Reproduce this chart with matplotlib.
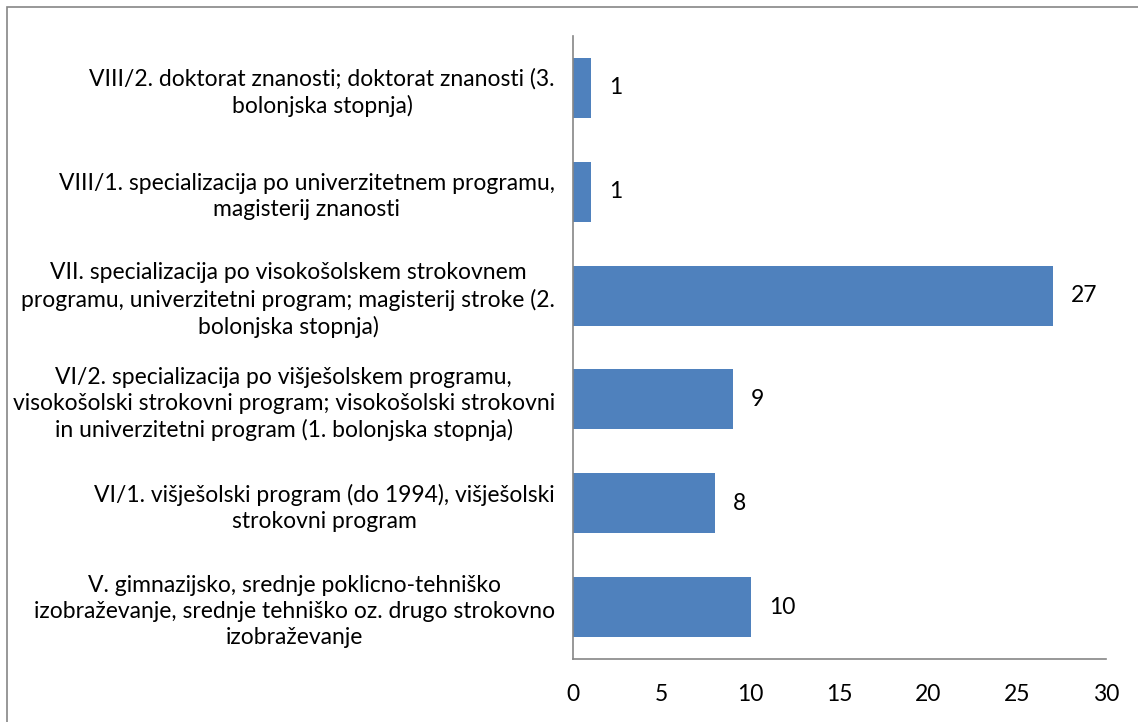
import matplotlib
matplotlib.use("Agg")
from matplotlib import pyplot as plt
from matplotlib.patches import Rectangle

# categories bottom to top, as drawn
CATEGORIES = [
    "V. gimnazijsko, srednje poklicno-tehniško\nizobraževanje, srednje tehniško oz. drugo strokovno\nizobraževanje",
    "VI/1. višješolski program (do 1994), višješolski\nstrokovni program",
    "VI/2. specializacija po višješolskem programu,\nvisokošolski strokovni program; visokošolski strokovni\nin univerzitetni program (1. bolonjska stopnja)",
    "VII. specializacija po visokošolskem strokovnem\nprogramu, univerzitetni program; magisterij stroke (2.\nbolonjska stopnja)",
    "VIII/1. specializacija po univerzitetnem programu,\nmagisterij znanosti",
    "VIII/2. doktorat znanosti; doktorat znanosti (3.\nbolonjska stopnja)",
]
VALUES = [10, 8, 9, 27, 1, 1]
X_TICKS = [0, 5, 10, 15, 20, 25, 30]

FS = 16.5
plt.rcParams["font.family"] = ["Lato", "DejaVu Sans"]

fig = plt.figure(figsize=(11.38, 7.22), dpi=100)
ax = fig.add_axes([0.5035, 0.0873, 0.4684, 0.8629])

pos = range(len(CATEGORIES))
ax.barh(pos, VALUES, height=0.578, color="#4F81BD")
for y, v in zip(pos, VALUES):
    ax.annotate(str(v), (v, y), xytext=(13, 0), textcoords="offset points",
                va="center", ha="left", fontsize=FS)

ax.set_xlim(0, 30)
ax.set_ylim(-0.5, len(CATEGORIES) - 0.5)
ax.set_xticks(X_TICKS)
ax.set_xticklabels([str(t) for t in X_TICKS], fontsize=FS)
ax.set_yticks(list(pos))
ax.set_yticklabels(CATEGORIES, fontsize=FS, multialignment="center", linespacing=1.3)
ax.tick_params(axis="both", length=0)
ax.tick_params(axis="x", pad=18)
ax.tick_params(axis="y", pad=13)

for side in ["top", "right"]:
    ax.spines[side].set_visible(False)
for side in ["left", "bottom"]:
    ax.spines[side].set_color("#868686")
    ax.spines[side].set_linewidth(1.2)

# outer chart border (runs off the right and bottom edges)
fig.patches.append(Rectangle((0.006, -0.05), 1.1, 1.04, transform=fig.transFigure,
                             fill=False, edgecolor="#868686", linewidth=1.2))

fig.savefig("out.png", dpi=100)
